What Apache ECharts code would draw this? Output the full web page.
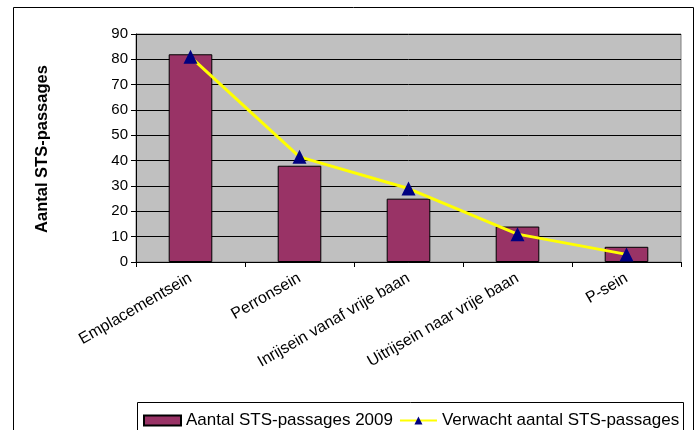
<!DOCTYPE html>
<html><head><meta charset="utf-8">
<script src="https://cdn.jsdelivr.net/npm/echarts@6/dist/echarts.min.js"></script>
<style>html,body{margin:0;padding:0;background:#fff}#c{width:699px;height:430px}</style>
</head><body><div id="c"></div>
<script>
const categories = ['Emplacementsein','Perronsein','Inrijsein vanaf vrije baan','Uitrijsein naar vrije baan','P-sein'];
const actual2009 = [82, 38, 25, 14, 6];
const expected = [81, 41.5, 29, 11, 3];
const yTicks = {min: 0, max: 90, interval: 10};
const seriesNames = ['Aantal STS-passages 2009', 'Verwacht aantal STS-passages'];
const yTitle = 'Aantal STS-passages';

const font = '"Liberation Sans", Arial, sans-serif';
const chart = echarts.init(document.getElementById('c'), null, {renderer: 'canvas'});
chart.setOption({
  animation: false,
  backgroundColor: '#fff',
  textStyle: {fontFamily: font},
  graphic: [
    {type: 'rect', shape: {x: 13.5, y: 7.5, width: 680, height: 440}, style: {fill: 'none', stroke: '#000', lineWidth: 1}, z: -10},
    {type: 'rect', shape: {x: 137.5, y: 402.5, width: 546, height: 40}, style: {fill: '#fff', stroke: '#000', lineWidth: 1}, z: -5},
    {type: 'text', x: 42, y: 149, rotation: Math.PI / 2,
     style: {text: yTitle, font: 'bold 16.5px ' + font, fill: '#000', align: 'center', verticalAlign: 'middle'}}
  ],
  grid: {left: 136, right: 18, top: 34, bottom: 168, show: true, backgroundColor: '#C0C0C0', borderColor: '#808080', borderWidth: 1},
  legend: {
    left: 138, top: 407, itemWidth: 37, itemHeight: 10, itemGap: 6,
    textStyle: {fontSize: 17, color: '#000', fontFamily: font},
    data: [{name: seriesNames[0], icon: 'rect'}, {name: seriesNames[1]}]
  },
  xAxis: {
    type: 'category', data: categories, boundaryGap: true,
    axisLine: {lineStyle: {color: '#000', width: 1}},
    axisTick: {show: true, length: 5, lineStyle: {color: '#000'}},
    axisLabel: {rotate: 30, interval: 0, fontSize: 16, color: '#000', margin: 15, fontFamily: font}
  },
  yAxis: {
    type: 'value', min: yTicks.min, max: yTicks.max, interval: yTicks.interval,
    axisLine: {show: true, lineStyle: {color: '#000', width: 1}},
    axisTick: {show: true, length: 5, lineStyle: {color: '#000'}},
    axisLabel: {fontSize: 15, color: '#000', margin: 8, fontFamily: font},
    splitLine: {show: true, lineStyle: {color: '#000', width: 1}}
  },
  series: [
    {name: seriesNames[0], type: 'bar', data: actual2009, barWidth: '40%',
     itemStyle: {color: '#993366', borderColor: '#000', borderWidth: 1}, z: 2},
    {name: seriesNames[1], type: 'line', data: expected, symbol: 'triangle', symbolSize: 14,
     lineStyle: {color: '#FFFF00', width: 3}, itemStyle: {color: '#000080'}, z: 3}
  ]
});
</script></body></html>
